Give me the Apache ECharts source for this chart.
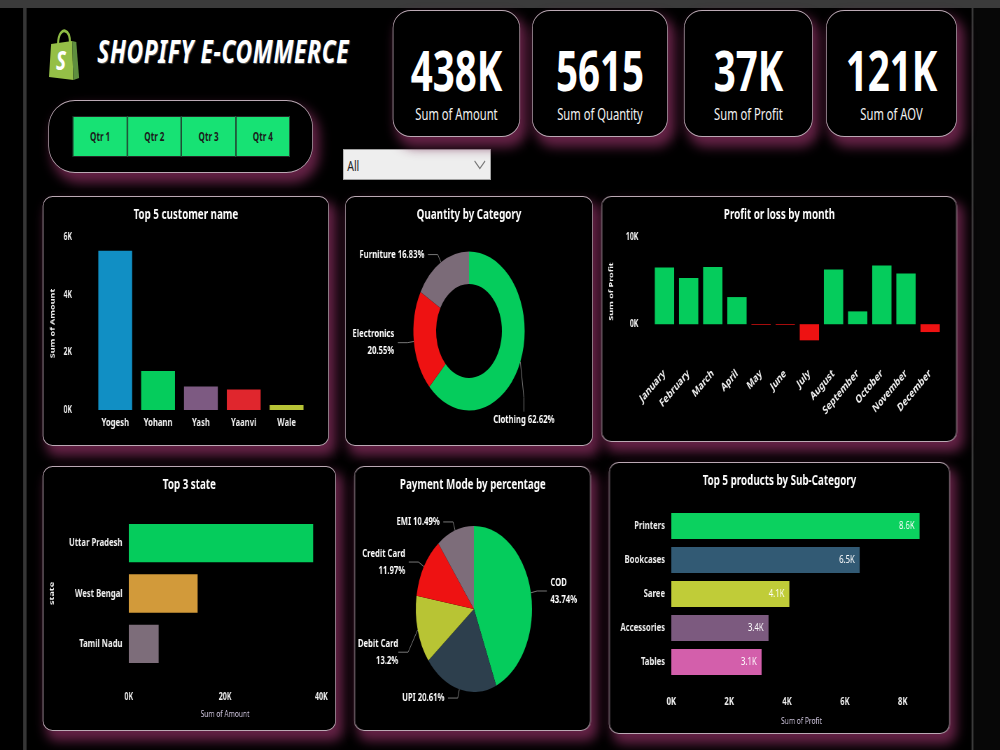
<!DOCTYPE html>
<html>
<head>
<meta charset="utf-8">
<title>Shopify E-Commerce</title>
<script src="https://cdn.jsdelivr.net/npm/echarts@6.0.0/dist/echarts.min.js"></script>
<style>
  html, body { margin: 0; padding: 0; background: #000; overflow: hidden; }
  /* the whole board is laid out 1/0.7 wider and squeezed, like the screenshot */
  #page {
    position: relative; width: 1428.57px; height: 750px; background: #000;
    transform: scaleX(0.7); transform-origin: 0 0;
    font-family: 'Noto Sans', 'DejaVu Sans', sans-serif; color: #fff;
  }
  .abs { position: absolute; }
  .panel {
    position: absolute; box-sizing: border-box; background: #000;
    border: 1.5px solid #bba9b4; border-radius: 14px / 10px;
    box-shadow: 7px 8px 14px 2px rgba(112, 38, 78, 0.9);
  }
  .chart { position: absolute; left: 0; top: 0; width: 100%; height: 100%; }
  .kpi { top: 10px; height: 127px; border-radius: 26px / 18px; }
  .kpi .num { position: absolute; left: 0; right: 0; top: 31px; text-align: center;
    font-size: 55px; line-height: 56px; font-weight: bold; }
  .kpi .lbl { position: absolute; left: 0; right: 0; top: 93px; text-align: center;
    font-size: 16px; line-height: 20px; color: #f2f2f2; }
  #qtrs { left: 104.3px; top: 116px; width: 310px; height: 41px; display: flex; }
  #qtrs div { flex: 1; box-sizing: border-box; background: #17e274; border: 1px solid #262626;
    color: #1b1b1b; font-size: 11.5px; font-weight: bold; line-height: 39px; text-align: center; }
</style>
</head>
<body>
<div id="page">
  <div class="abs" style="left:0;top:0;width:100%;height:8px;background:#3b3b3b"></div>
  <div class="abs" style="left:33px;top:8px;width:5px;height:742px;background:#363636"></div>
  <div class="abs" style="left:1388px;top:8px;width:3px;height:742px;background:#3a3a3a"></div>
  <div class="abs" style="left:1391px;top:8px;width:40px;height:742px;background:#070707"></div>

  <!-- logo -->
  <svg class="abs" style="left:68px;top:29px" width="47" height="52" viewBox="0 0 47 52">
    <path d="M15 15 C15 4, 22 1, 25 2 C30 3, 32 8, 32 14" fill="none" stroke="#8fbd45" stroke-width="3"/>
    <polygon points="5,15 35,12 37,51 2,48" fill="#95bf47"/>
    <polygon points="35,12 41,13 45,49 37,51" fill="#5e8e3e"/>
    <text x="19" y="41" text-anchor="middle" font-size="27" font-weight="bold" font-style="italic"
      font-family="'Noto Sans', sans-serif" fill="#fff">S</text>
  </svg>
  <div class="abs" style="left:139px;top:31px;font-size:32.5px;line-height:40px;font-weight:bold;font-style:italic;letter-spacing:0.9px;text-shadow:1px 1px 1px #555">SHOPIFY E-COMMERCE</div>

  <!-- quarter slicer -->
  <div class="panel" style="left:68.6px;top:100px;width:378.6px;height:73px;border-radius:38px / 27px"></div>
  <div class="abs" id="qtrs"></div>

  <!-- dropdown -->
  <div class="abs" style="left:490px;top:149px;width:211.4px;height:31px;box-sizing:border-box;background:#eeeeee;border:1px solid #a0a0a0">
    <div class="abs" style="left:5px;top:4px;font-size:15px;line-height:22px;color:#222">All</div>
    <svg class="abs" style="left:186px;top:10px" width="17" height="10" viewBox="0 0 17 10">
      <polyline points="1,1 8.5,8.5 16,1" fill="none" stroke="#777" stroke-width="1.4"/>
    </svg>
  </div>

  <!-- KPI cards -->
  <div class="panel kpi" style="left:561.4px;width:181.4px"><div class="num"></div><div class="lbl"></div></div>
  <div class="panel kpi" style="left:760px;width:194.3px"><div class="num"></div><div class="lbl"></div></div>
  <div class="panel kpi" style="left:977.1px;width:184.3px"><div class="num"></div><div class="lbl"></div></div>
  <div class="panel kpi" style="left:1180px;width:187.1px"><div class="num"></div><div class="lbl"></div></div>

  <!-- charts -->
  <div class="panel" style="left:61.4px;top:196px;width:408.6px;height:250px"><div class="chart" id="chartCustomer"></div></div>
  <div class="panel" style="left:492.9px;top:196px;width:354.3px;height:250px"><div class="chart" id="chartCategory"></div></div>
  <div class="panel" style="left:858.6px;top:196px;width:508.6px;height:246px"><div class="chart" id="chartMonth"></div></div>
  <div class="panel" style="left:61.4px;top:466px;width:418.6px;height:265px"><div class="chart" id="chartState"></div></div>
  <div class="panel" style="left:505.7px;top:466px;width:338.6px;height:265px"><div class="chart" id="chartPayment"></div></div>
  <div class="panel" style="left:870px;top:462px;width:487.1px;height:272px"><div class="chart" id="chartProduct"></div></div>
</div>

<script>
// ---- data ----
const quarters = ['Qtr 1', 'Qtr 2', 'Qtr 3', 'Qtr 4']
const kpiValues = ['438K', '5615', '37K', '121K']
const kpiLabels = ['Sum of Amount', 'Sum of Quantity', 'Sum of Profit', 'Sum of AOV']

const customerNames = ['Yogesh', 'Yohann', 'Yash', 'Yaanvi', 'Wale']
const customerAmount = [5520, 1350, 815, 710, 170]

const categoryNames = ['Clothing', 'Electronics', 'Furniture']
const categoryShare = [62.62, 20.55, 16.83]

const months = ['January', 'February', 'March', 'April', 'May', 'June', 'July',
  'August', 'September', 'October', 'November', 'December']
const monthProfit = [6500, 5300, 6570, 3110, -80, -80, -1850, 6270, 1470, 6720, 5820, -900]

const stateNames = ['Uttar Pradesh', 'West Bengal', 'Tamil Nadu']
const stateAmount = [38300, 14300, 6200]

const paymentModes = ['COD', 'UPI', 'Debit Card', 'Credit Card', 'EMI']
const paymentShare = [43.74, 20.61, 13.2, 11.97, 10.49]

const subCategories = ['Printers', 'Bookcases', 'Saree', 'Accessories', 'Tables']
const subCategoryProfit = [8580, 6510, 4080, 3360, 3120]

// ---- colours ----
const GREEN = '#05cc5c'
const RED = '#ee1212'
const customerColors = ['#118fc4', GREEN, '#7d5a82', '#e0262d', '#b7c336']
const categoryColors = [GREEN, RED, '#7b6b78']
const stateColors = [GREEN, '#d29a3a', '#7d6d7a']
const paymentColors = [GREEN, '#2d3f4d', '#b8c434', RED, '#7d6d7a']
const productColors = ['#0bd15f', '#325a74', '#c0cc38', '#7c5a7f', '#d35fab']

const FONT = "'Noto Sans', 'DejaVu Sans', sans-serif"
const LABEL = '#f0f0f0'

// html bits
document.getElementById('qtrs').innerHTML = quarters.map(q => '<div>' + q + '</div>').join('')
document.querySelectorAll('.kpi').forEach((card, i) => {
  card.querySelector('.num').textContent = kpiValues[i]
  card.querySelector('.lbl').textContent = kpiLabels[i]
})

function title (text) {
  return { text: text, left: 'center', top: 6,
    textStyle: { color: '#fff', fontSize: 14, fontWeight: 'bold', fontFamily: FONT } }
}
function kFmt (v) { return v / 1000 + 'K' }
function colored (values, colors) {
  return values.map((v, i) => ({ value: v, itemStyle: { color: colors[i] } }))
}
// move a pie label by an offset, letting echarts redraw its guide line
function shiftLabel (p, dx, dy, align) {
  const r = p.labelRect
  return {
    x: (align === 'right' ? r.x + r.width : r.x) + dx,
    y: r.y + r.height / 2 + dy,
    align: align, verticalAlign: 'middle'
  }
}

// Top 5 customer name
echarts.init(document.getElementById('chartCustomer')).setOption({
  animation: false,
  textStyle: { fontFamily: FONT },
  title: title('Top 5 customer name'),
  grid: { left: 72, right: 29, top: 40, bottom: 35 },
  xAxis: {
    type: 'category', data: customerNames,
    axisLine: { show: false }, axisTick: { show: false },
    axisLabel: { color: LABEL, fontWeight: 'bold', fontSize: 11, margin: 7 }
  },
  yAxis: {
    type: 'value', min: 0, max: 6000, interval: 2000,
    splitLine: { show: false },
    axisLabel: { formatter: kFmt, color: LABEL, fontWeight: 'bold', fontSize: 10, margin: 31 },
    name: 'Sum of Amount', nameLocation: 'middle', nameGap: 50,
    nameTextStyle: { color: LABEL, fontWeight: 'bold', fontSize: 9 }
  },
  series: [{ type: 'bar', data: colored(customerAmount, customerColors), barCategoryGap: '21%' }]
})

// Quantity by Category
echarts.init(document.getElementById('chartCategory')).setOption({
  animation: false,
  textStyle: { fontFamily: FONT },
  title: title('Quantity by Category'),
  series: [{
    type: 'pie', center: [176, 134], radius: [47, 79.5], startAngle: 90,
    data: categoryNames.map((n, i) => ({ name: n, value: categoryShare[i], itemStyle: { color: categoryColors[i] } })),
    label: {
      color: '#fff', fontWeight: 'bold', fontSize: 11, lineHeight: 17, overflow: 'none',
      formatter: p => p.name === 'Electronics' ? p.name + '\n' + p.value + '%' : p.name + ' ' + p.value + '%'
    },
    labelLine: { length: 9, length2: 14, lineStyle: { color: '#777', width: 1 } },
    // Power BI drops the Clothing label to the bottom of the ring
    labelLayout: p => p.dataIndex === 0 ? shiftLabel(p, -66, 55, 'left') : {}
  }]
})

// Profit or loss by month
echarts.init(document.getElementById('chartMonth')).setOption({
  animation: false,
  textStyle: { fontFamily: FONT },
  title: title('Profit or loss by month'),
  grid: { left: 72, right: 21, top: 40, bottom: 95 },
  xAxis: {
    type: 'category', data: months,
    axisLine: { show: false, onZero: false }, axisTick: { show: false },
    axisLabel: { color: LABEL, fontWeight: 'bold', fontSize: 11.5, rotate: 40, margin: 26, interval: 0 }
  },
  yAxis: {
    type: 'value', min: -2500, max: 10000, interval: 2500,
    splitLine: { show: false },
    axisLabel: {
      formatter: v => (v === 0 || v === 10000) ? kFmt(v) : '',
      color: LABEL, fontWeight: 'bold', fontSize: 10, margin: 20
    },
    name: 'Sum of Profit', nameLocation: 'middle', nameGap: 54,
    nameTextStyle: { color: LABEL, fontWeight: 'bold', fontSize: 9 }
  },
  series: [{
    type: 'bar', barCategoryGap: '20%',
    data: monthProfit.map(v => ({ value: v, itemStyle: { color: v < 0 ? RED : GREEN } }))
  }]
})

// Top 3 state
echarts.init(document.getElementById('chartState')).setOption({
  animation: false,
  textStyle: { fontFamily: FONT },
  title: title('Top 3 state'),
  grid: { left: 120, right: 20, top: 51, bottom: 61 },
  xAxis: {
    type: 'value', min: 0, max: 40000, interval: 20000,
    splitLine: { show: false },
    axisLabel: { formatter: kFmt, color: LABEL, fontWeight: 'bold', fontSize: 10, margin: 23 },
    name: 'Sum of Amount', nameLocation: 'middle', nameGap: 40,
    nameTextStyle: { color: '#cdc4dc', fontSize: 9.5 }
  },
  yAxis: {
    type: 'category', data: stateNames, inverse: true,
    axisLine: { show: false }, axisTick: { show: false },
    axisLabel: { color: LABEL, fontWeight: 'bold', fontSize: 11, margin: 9 },
    name: 'state', nameLocation: 'middle', nameGap: 105,
    nameTextStyle: { color: LABEL, fontWeight: 'bold', fontSize: 9 }
  },
  series: [{ type: 'bar', data: colored(stateAmount, stateColors), barCategoryGap: '24%' }]
})

// Payment Mode by percentage
echarts.init(document.getElementById('chartPayment')).setOption({
  animation: false,
  textStyle: { fontFamily: FONT },
  title: title('Payment Mode by percentage'),
  series: [{
    type: 'pie', center: [170, 142], radius: 83, startAngle: 90,
    data: paymentModes.map((n, i) => ({ name: n, value: paymentShare[i], itemStyle: { color: paymentColors[i] } })),
    label: {
      color: '#fff', fontWeight: 'bold', fontSize: 11, lineHeight: 17, overflow: 'none',
      formatter: p => (p.name === 'EMI' || p.name === 'UPI') ? p.name + ' ' + p.value + '%' : p.name + '\n' + p.value + '%'
    },
    labelLine: { length: 9, length2: 14, lineStyle: { color: '#777', width: 1 } },
    labelLayout: p => p.dataIndex === 2 ? shiftLabel(p, 0, 20, 'right') : {}
  }]
})

// Top 5 products by Sub-Category
echarts.init(document.getElementById('chartProduct')).setOption({
  animation: false,
  textStyle: { fontFamily: FONT },
  title: title('Top 5 products by Sub-Category'),
  grid: { left: 88, right: 25, top: 46, bottom: 54 },
  xAxis: {
    type: 'value', min: 0, max: 9000, interval: 2000,
    splitLine: { show: false },
    axisLabel: { formatter: kFmt, color: LABEL, fontWeight: 'bold', fontSize: 11, margin: 17, showMaxLabel: false },
    name: 'Sum of Profit', nameLocation: 'middle', nameGap: 37,
    nameTextStyle: { color: '#cdc4dc', fontSize: 9.5 }
  },
  yAxis: {
    type: 'category', data: subCategories, inverse: true,
    axisLine: { show: false }, axisTick: { show: false },
    axisLabel: { color: LABEL, fontWeight: 'bold', fontSize: 11, margin: 9 }
  },
  series: [{
    type: 'bar', data: colored(subCategoryProfit, productColors), barCategoryGap: '24%',
    label: {
      show: true, position: 'insideRight', distance: 7, color: '#fff', fontSize: 11,
      formatter: p => (p.value / 1000).toFixed(1) + 'K'
    }
  }]
})
</script>
</body>
</html>
